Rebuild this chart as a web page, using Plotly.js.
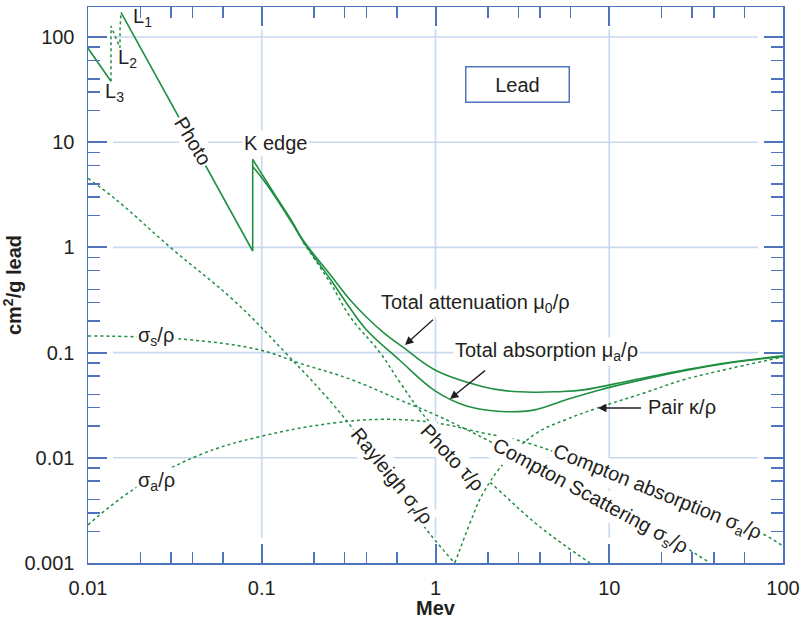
<!DOCTYPE html>
<html>
<head>
<meta charset="utf-8">
<script src="https://cdn.plot.ly/plotly-3.0.1.min.js"></script>
<style>html,body{margin:0;padding:0;background:#fff;}#chart{width:801px;height:619px;}</style>
</head>
<body>
<div id="chart"></div>
<script>
// ---- axis ticks ----
const xMajor = [0.01, 0.1, 1, 10, 100];
const xMajorText = ['0.01', '0.1', '1', '10', '100'];
const xMinor = [0.02, 0.03, 0.04, 0.06, 0.2, 0.3, 0.4, 0.6, 2, 3, 4, 6, 20, 30, 40, 60];
const yMajor = [0.001, 0.01, 0.1, 1, 10, 100];
const yMajorText = ['0.001', '0.01', '0.1', '1', '10', '100'];
const yMinor = [0.002, 0.003, 0.004, 0.006, 0.008, 0.02, 0.03, 0.04, 0.06, 0.08,
                0.2, 0.3, 0.4, 0.6, 0.8, 2, 3, 4, 6, 8, 20, 30, 40, 60, 80];

// ---- data (MeV, cm^2/g) ----
// total attenuation below L3 edge
const attenLowX = [0.01, 0.01356];
const attenLowY = [78, 38];
// L-edge jumps (dotted)
const edgeX = [0.01356, 0.01356, 0.01528, 0.01528, 0.01548];
const edgeY = [38, 127, 79, 116, 171];
// photo-dominated total from L1 edge up to the K edge jump
const attenPhotoX = [0.01548, 0.03, 0.0887, 0.0887];
const attenPhotoY = [171, 23.5, 0.924, 6.87];
// total attenuation mu0/rho above the K edge
const attenX = [0.0887, 0.1, 0.12, 0.15, 0.173, 0.25, 0.322, 0.4, 0.5, 0.653, 1.0, 1.88, 2.5, 3.66, 5, 7.1, 13.8, 26.7, 50, 100];
const attenY = [6.87, 5.0, 3.1, 1.75, 1.17, 0.54, 0.318, 0.218, 0.156, 0.112, 0.068, 0.0474, 0.0435, 0.042, 0.0425, 0.0442, 0.055, 0.068, 0.081, 0.093];
// total absorption mu_a/rho
const absorbX = [0.0887, 0.1, 0.12, 0.15, 0.173, 0.25, 0.322, 0.4, 0.62, 1.0, 1.51, 2.0, 2.57, 3.66, 5.6, 8.8, 13.8, 26.7, 50, 100];
const absorbY = [5.83, 4.6, 3.0, 1.68, 1.14, 0.49, 0.265, 0.165, 0.085, 0.043, 0.031, 0.0283, 0.0274, 0.0284, 0.0355, 0.0442, 0.053, 0.067, 0.08, 0.092];
// photo tau/rho
const photoX = [0.173, 0.25, 0.322, 0.479, 0.625, 0.815, 1.0, 1.5, 2.29, 4.0, 7.75];
const photoY = [1.12, 0.45, 0.22, 0.10, 0.052, 0.028, 0.019, 0.0095, 0.005, 0.0022, 0.001];
// Rayleigh sigma_r/rho
const rayX = [0.01, 0.0146, 0.031, 0.0686, 0.139, 0.294, 0.889, 1.29];
const rayY = [4.53, 2.82, 0.945, 0.316, 0.097, 0.0247, 0.00207, 0.001];
// Compton scattering sigma_s/rho
const compSX = [0.01, 0.0353, 0.0976, 0.166, 0.322, 0.62, 1.0, 2.15, 10, 26.7, 38];
const compSY = [0.144, 0.134, 0.106, 0.079, 0.056, 0.0356, 0.0256, 0.0138, 0.0035, 0.00144, 0.001];
// Compton absorption sigma_a/rho
const compAX = [0.01, 0.01825, 0.0442, 0.0976, 0.258, 0.5, 1.0, 1.88, 3.17, 10, 76, 100];
const compAY = [0.0023, 0.005, 0.0107, 0.0159, 0.0214, 0.0232, 0.0215, 0.0172, 0.0143, 0.0072, 0.0019, 0.00144];
// Pair kappa/rho
const pairX = [1.29, 1.38, 1.58, 1.88, 2.57, 3.82, 5.6, 8.47, 15.7, 26.7, 41.5, 100];
const pairY = [0.001, 0.00134, 0.0024, 0.00462, 0.00957, 0.0172, 0.023, 0.0296, 0.0411, 0.0551, 0.066, 0.091];

const GREEN = '#1f8f42';
const BLUE = '#4f74bd';
const GRID = '#c8d8ef';
const TXT = '#231f20';
const FONT = 'Liberation Sans, Arial, sans-serif';

function solid(x, y, smooth) {
  return {x: x, y: y, type: 'scatter', mode: 'lines', hoverinfo: 'skip',
    line: smooth ? {color: GREEN, width: 1.6, shape: 'spline', smoothing: 1.1} : {color: GREEN, width: 1.6}};
}
function dotted(x, y, smooth) {
  return {x: x, y: y, type: 'scatter', mode: 'lines', hoverinfo: 'skip',
    line: smooth ? {color: GREEN, width: 1.5, dash: 'dot', shape: 'spline', smoothing: 1.1} : {color: GREEN, width: 1.5, dash: 'dot'}};
}

const traces = [
  solid(attenLowX, attenLowY, false),
  dotted(edgeX, edgeY, false),
  solid(attenPhotoX, attenPhotoY, false),
  solid(attenX, attenY, true),
  solid(absorbX, absorbY, true),
  dotted(photoX, photoY, true),
  dotted(rayX, rayY, true),
  dotted(compSX, compSY, true),
  dotted(compAX, compAY, true),
  dotted(pairX, pairY, true)
];

// plot area in pixels: left 88, right 783, top 7, bottom 563
const L = 88, R = 783, T = 7, B = 563;
function P(px, py) { return {x: (px - L) / (R - L), y: (B - py) / (B - T)}; }

function label(px, py, text, angle, extra) {
  const p = P(px, py);
  return Object.assign({xref: 'paper', yref: 'paper', x: p.x, y: p.y, text: text, showarrow: false,
    textangle: angle || 0, xanchor: 'center', yanchor: 'middle', bgcolor: 'white', borderpad: 1,
    font: {family: FONT, size: 20, color: TXT}}, extra || {});
}
function arrow(hx, hy, ax, ay) {
  const p = P(hx, hy);
  return {xref: 'paper', yref: 'paper', x: p.x, y: p.y, text: ' ', showarrow: true, ax: ax, ay: ay,
    arrowhead: 2, arrowsize: 1.3, arrowwidth: 1.3, arrowcolor: TXT, standoff: 0, startstandoff: 0,
    font: {size: 4}};
}

const annotations = [
  label(142, 18, 'L<sub>1</sub>', 0, {bgcolor: 'rgba(0,0,0,0)'}),
  label(127, 59, 'L<sub>2</sub>', 0, {bgcolor: 'rgba(0,0,0,0)'}),
  label(114, 92, 'L<sub>3</sub>', 0, {bgcolor: 'rgba(0,0,0,0)'}),
  label(193, 141, 'Photo', 59),
  label(275, 143, 'K edge', 0),
  label(156, 336, 'σ<sub>s</sub>/ρ', 0),
  label(156, 481, 'σ<sub>a</sub>/ρ', 0),
  label(475, 303, 'Total attenuation μ<sub>0</sub>/ρ', 0),
  label(546, 352, 'Total absorption μ<sub>a</sub>/ρ', 0),
  label(682, 407, 'Pair κ/ρ', 0),
  label(391, 476, 'Rayleigh σ<sub>r</sub>/ρ', 51),
  label(453, 458, 'Photo τ/ρ', 47),
  label(590, 496, 'Compton Scattering σ<sub>s</sub>/ρ', 28.5),
  label(657, 492, 'Compton absorption σ<sub>a</sub>/ρ', 22),
  label(517, 84, 'Lead', 0, {bordercolor: BLUE, borderwidth: 1.5, width: 100, height: 32}),
  arrow(405, 345, 30, -27),
  arrow(450, 399, 37, -30),
  arrow(598, 408, 45, 0)
];

// grid lines (with gaps near the frame, as in the reference)
const shapes = [];
xMajor.slice(1, -1).forEach(function (v) {
  shapes.push({type: 'line', xref: 'x', yref: 'paper', x0: v, x1: v, y0: 0.045, y1: 0.96, layer: 'below', line: {color: GRID, width: 1.6}});
});
yMajor.slice(1).forEach(function (v) {
  shapes.push({type: 'line', xref: 'paper', yref: 'y', x0: 0.036, x1: 0.964, y0: v, y1: v, layer: 'below', line: {color: GRID, width: 1.6}});
});

const layout = {
  width: 801, height: 619,
  margin: {l: L, r: 801 - R, t: T, b: 619 - B},
  paper_bgcolor: 'white', plot_bgcolor: 'white',
  showlegend: false,
  font: {family: FONT, size: 20, color: TXT},
  xaxis: {
    type: 'log', range: [-2, 2], fixedrange: true,
    tickmode: 'array', tickvals: xMajor, ticktext: xMajorText,
    ticks: 'inside', ticklen: 19, tickwidth: 2, tickcolor: BLUE,
    showline: true, linecolor: BLUE, linewidth: 1.5, mirror: 'ticks',
    showgrid: false, zeroline: false, ticklabelstandoff: 6,
    tickfont: {family: FONT, size: 20, color: TXT},
    minor: {tickmode: 'array', tickvals: xMinor, ticks: 'inside', ticklen: 11, tickwidth: 1.5, tickcolor: BLUE, showgrid: false},
    title: {text: '<b>Mev</b>', font: {family: FONT, size: 20, color: TXT}, standoff: 2}
  },
  yaxis: {
    type: 'log', range: [-3, 2.285], fixedrange: true,
    tickmode: 'array', tickvals: yMajor, ticktext: yMajorText,
    ticks: 'inside', ticklen: 19, tickwidth: 2, tickcolor: BLUE,
    showline: true, linecolor: BLUE, linewidth: 1.5, mirror: 'ticks',
    showgrid: false, zeroline: false, ticklabelstandoff: 8,
    tickfont: {family: FONT, size: 20, color: TXT},
    minor: {tickmode: 'array', tickvals: yMinor, ticks: 'inside', ticklen: 12, tickwidth: 1.5, tickcolor: BLUE, showgrid: false},
    title: {text: '<b>cm<sup>2</sup>/g lead</b>', font: {family: FONT, size: 20, color: TXT}, standoff: 6}
  },
  annotations: annotations,
  shapes: shapes
};

Plotly.newPlot('chart', traces, layout, {staticPlot: true, displayModeBar: false});
</script>
</body>
</html>
